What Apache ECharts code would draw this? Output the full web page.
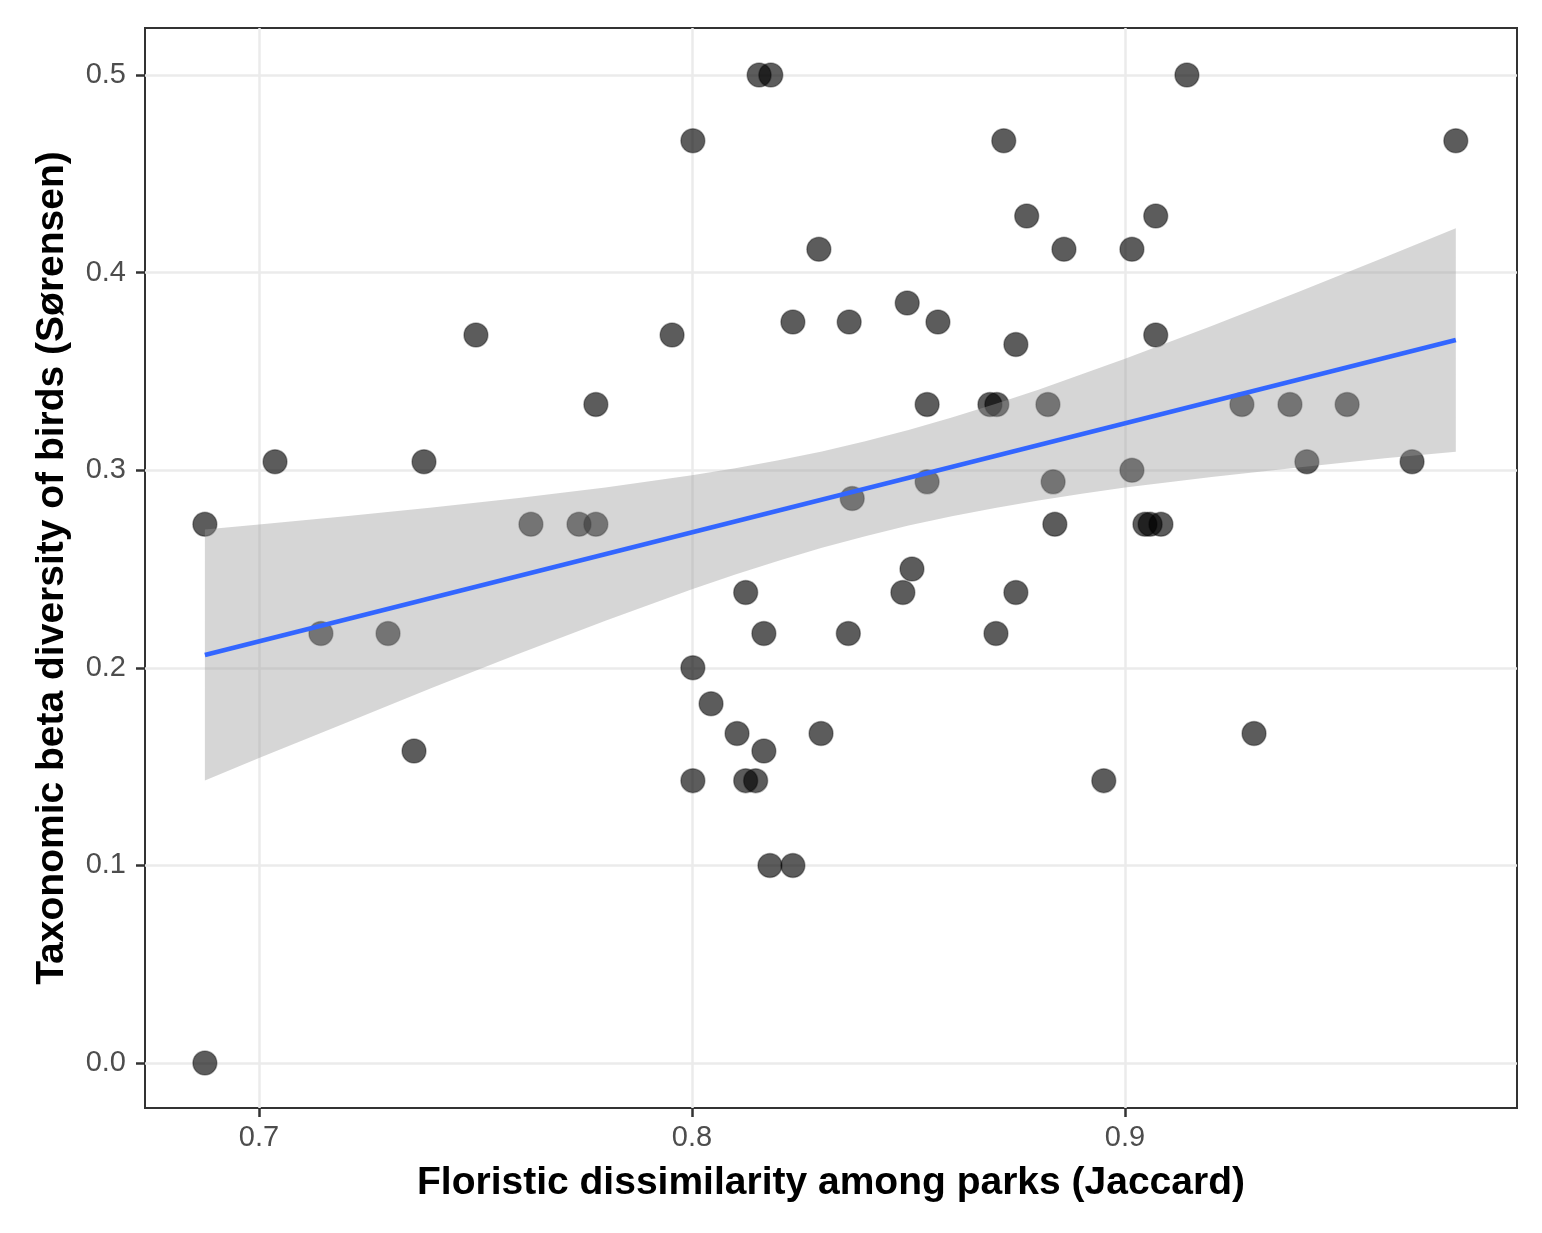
<!DOCTYPE html>
<html>
<head>
<meta charset="utf-8">
<script src="https://cdn.jsdelivr.net/npm/echarts@6/dist/echarts.min.js"></script>
<style>
  html, body { margin: 0; padding: 0; background: #fff; }
  #chart { width: 1542px; height: 1233px; }
</style>
</head>
<body>
<div id="chart"></div>
<script>
// park pairs: floristic dissimilarity (x) vs bird beta diversity (y)
var jaccard = [
  0.6875, 0.6875, 0.7037, 0.7143, 0.7298, 0.7358, 0.7381, 0.7501, 0.7628, 0.7739,
  0.7778, 0.7778, 0.7954, 0.8002, 0.8002, 0.8002, 0.8044, 0.8104, 0.8124, 0.8124,
  0.8147, 0.8155, 0.8182, 0.8166, 0.8166, 0.8180, 0.8233, 0.8233, 0.8293, 0.8298,
  0.8363, 0.8361, 0.8370, 0.8497, 0.8487, 0.8508, 0.8543, 0.8543, 0.8568, 0.8688,
  0.8704, 0.8702, 0.8720, 0.8748, 0.8748, 0.8773, 0.8822, 0.8834, 0.8838, 0.8859,
  0.8951, 0.9016, 0.9016, 0.9046, 0.9058, 0.9083, 0.9071, 0.9071, 0.9143, 0.9270,
  0.9298, 0.9381, 0.9420, 0.9513, 0.9663, 0.9764
];
var sorensen = [
  0.2727, 0.0000, 0.3043, 0.2174, 0.2174, 0.1579, 0.3043, 0.3684, 0.2727, 0.2727,
  0.2727, 0.3333, 0.3684, 0.4667, 0.2000, 0.1429, 0.1818, 0.1667, 0.2381, 0.1429,
  0.1429, 0.5000, 0.5000, 0.2174, 0.1579, 0.1000, 0.1000, 0.3750, 0.4118, 0.1667,
  0.3750, 0.2174, 0.2857, 0.3846, 0.2381, 0.2500, 0.3333, 0.2941, 0.3750, 0.3333,
  0.3333, 0.2174, 0.4667, 0.3636, 0.2381, 0.4286, 0.3333, 0.2941, 0.2727, 0.4118,
  0.1429, 0.4118, 0.3000, 0.2727, 0.2727, 0.2727, 0.4286, 0.3684, 0.5000, 0.3333,
  0.1667, 0.3333, 0.3043, 0.3333, 0.3043, 0.4667
];

// linear fit and its confidence band
var fitX = [0.6875, 0.9764];
var fitY = [0.2065, 0.3659];
var bandX = [0.6875, 0.70, 0.72, 0.74, 0.76, 0.78, 0.80, 0.81, 0.82, 0.83, 0.84, 0.85, 0.86, 0.87, 0.88, 0.89, 0.90, 0.92, 0.94, 0.96, 0.9764];
var bandUpper = [0.2700, 0.2725, 0.2767, 0.2811, 0.2859, 0.2912, 0.2974, 0.3010, 0.3050, 0.3095, 0.3146, 0.3204, 0.3267, 0.3335, 0.3407, 0.3485, 0.3564, 0.3730, 0.3902, 0.4078, 0.4224];
var bandLower = [0.1430, 0.1543, 0.1721, 0.1899, 0.2071, 0.2238, 0.2398, 0.2472, 0.2542, 0.2607, 0.2666, 0.2720, 0.2767, 0.2809, 0.2847, 0.2881, 0.2912, 0.2966, 0.3014, 0.3060, 0.3094];

var xTicks = [0.7, 0.8, 0.9];
var yTicks = [0, 0.1, 0.2, 0.3, 0.4, 0.5];

var FONT = "'Liberation Sans', Arial, sans-serif";

var points = jaccard.map(function (x, i) { return [x, sorensen[i]]; });
var fitLine = fitX.map(function (x, i) { return [x, fitY[i]]; });

var chart = echarts.init(document.getElementById('chart'), null, { renderer: 'canvas' });

function axisCommon(ticks) {
  return {
    axisLine: { show: false, onZero: false },
    axisTick: { show: true, inside: false, customValues: ticks, length: 9, lineStyle: { color: '#333', width: 2.5 } },
    axisLabel: {
      customValues: ticks,
      color: '#4D4D4D',
      fontSize: 29,
      fontFamily: FONT,
      formatter: function (v) { return v.toFixed(1); }
    },
    splitLine: { show: true, lineStyle: { color: '#EBEBEB', width: 2.5 } }
  };
}

var xAxis = axisCommon(xTicks);
xAxis.type = 'value';
xAxis.min = 0.67367;
xAxis.max = 0.99053;
xAxis.axisLabel.margin = 15;
xAxis.name = 'Floristic dissimilarity among parks (Jaccard)';
xAxis.nameLocation = 'middle';
xAxis.nameGap = 56;
xAxis.nameTextStyle = { color: '#000', fontSize: 39, fontWeight: 'bold', fontFamily: FONT };

var yAxis = axisCommon(yTicks);
yAxis.type = 'value';
yAxis.min = -0.02277;
yAxis.max = 0.52379;
yAxis.axisLabel.margin = 19;
yAxis.name = 'Taxonomic beta diversity of birds (Sørensen)';
yAxis.nameLocation = 'middle';
yAxis.nameGap = 73;
yAxis.nameTextStyle = { color: '#000', fontSize: 39, fontWeight: 'bold', fontFamily: FONT };

chart.setOption({
  animation: false,
  grid: {
    left: 145, top: 28, width: 1372, height: 1080,
    show: true, borderColor: '#333', borderWidth: 2, backgroundColor: '#fff'
  },
  xAxis: xAxis,
  yAxis: yAxis,
  series: [
    {
      type: 'scatter',
      data: points,
      symbolSize: 24,
      z: 2,
      itemStyle: { color: 'rgba(0,0,0,0.8)', borderColor: 'rgba(0,0,0,0.4)', borderWidth: 1.5 },
      silent: true
    },
    {
      type: 'custom',
      z: 3,
      silent: true,
      data: [[bandX[0], bandUpper[0]]],
      renderItem: function (params, api) {
        var pts = [];
        for (var i = 0; i < bandX.length; i++) pts.push(api.coord([bandX[i], bandUpper[i]]));
        for (var j = bandX.length - 1; j >= 0; j--) pts.push(api.coord([bandX[j], bandLower[j]]));
        return {
          type: 'polygon',
          shape: { points: pts, smooth: 0 },
          style: { fill: 'rgba(153,153,153,0.4)' }
        };
      }
    },
    {
      type: 'line',
      data: fitLine,
      z: 4,
      symbol: 'none',
      silent: true,
      lineStyle: { color: '#3366FF', width: 4.5 }
    }
  ]
});
</script>
</body>
</html>
